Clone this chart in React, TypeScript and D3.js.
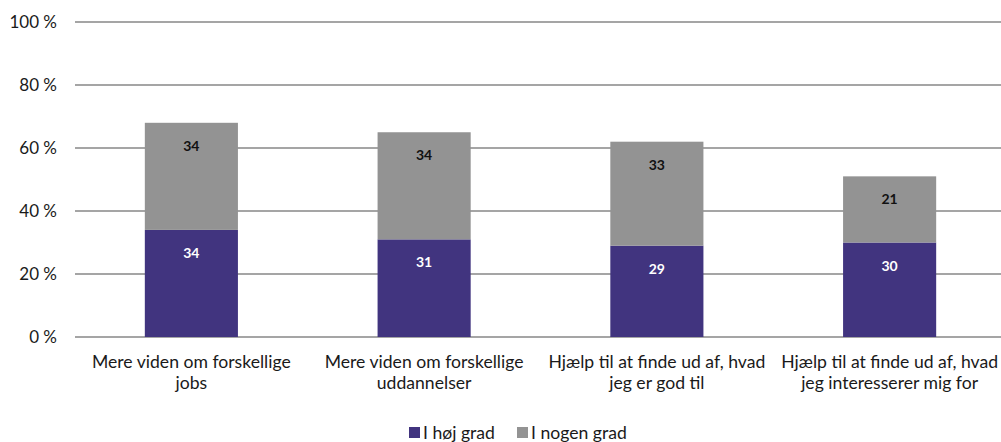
import React from "react";
import * as d3 from "d3";

const categories: string[][] = [
  ["Mere viden om forskellige", "jobs"],
  ["Mere viden om forskellige", "uddannelser"],
  ["Hjælp til at finde ud af, hvad", "jeg er god til"],
  ["Hjælp til at finde ud af, hvad", "jeg interesserer mig for"],
];
const hoejGrad = [34, 31, 29, 30];
const nogenGrad = [34, 34, 33, 21];
const seriesNames = ["I høj grad", "I nogen grad"];
const yTicks = [0, 20, 40, 60, 80, 100];

const W = 1001;
const H = 442;
const FONT = "'Source Sans Pro', Lato, 'Open Sans', sans-serif";
const PURPLE = "#41347f";
const GRAY = "#939393";

export default function App() {
  const x = d3
    .scaleBand<number>()
    .domain(d3.range(categories.length))
    .range([75, 1006])
    .paddingInner(0.6)
    .paddingOuter(0.3);
  const y = d3.scaleLinear().domain([0, 100]).range([337, 22]);

  return (
    <svg
      width={W}
      height={H}
      style={{ position: "absolute", left: 0, top: 0, background: "#fff" }}
      fontFamily={FONT}
    >
      {yTicks.map((t) => (
        <g key={t}>
          <line x1={75} x2={W} y1={y(t)} y2={y(t)} stroke="#878787" strokeWidth={1.5} />
          <text x={57} y={y(t)} dy="0.35em" textAnchor="end" fontSize={17} fill="#1a1a1a">
            {`${t} %`}
          </text>
        </g>
      ))}
      {categories.map((c, i) => {
        const x0 = x(i)!;
        const bw = x.bandwidth();
        const a = hoejGrad[i];
        const b = nogenGrad[i];
        return (
          <g key={i}>
            <rect x={x0} width={bw} y={y(a)} height={y(0) - y(a)} fill={PURPLE} />
            <rect x={x0} width={bw} y={y(a + b)} height={y(a) - y(a + b)} fill={GRAY} />
            <text x={x0 + bw / 2} y={y(a) + 28} textAnchor="middle" fontSize={14} fontWeight="bold" fill="#fff">
              {a}
            </text>
            <text x={x0 + bw / 2} y={y(a + b) + 28} textAnchor="middle" fontSize={14} fontWeight="bold" fill="#111">
              {b}
            </text>
            {c.map((line, j) => (
              <text key={j} x={x0 + bw / 2} y={368 + j * 21} textAnchor="middle" fontSize={17.6} fill="#1a1a1a">
                {line}
              </text>
            ))}
          </g>
        );
      })}
      <g>
        <rect x={409} y={427} width={11} height={11} fill={PURPLE} />
        <text x={423} y={439} fontSize={17.6} fill="#1a1a1a">{seriesNames[0]}</text>
        <rect x={517} y={427} width={11} height={11} fill={GRAY} />
        <text x={531} y={439} fontSize={17.6} fill="#1a1a1a">{seriesNames[1]}</text>
      </g>
    </svg>
  );
}
